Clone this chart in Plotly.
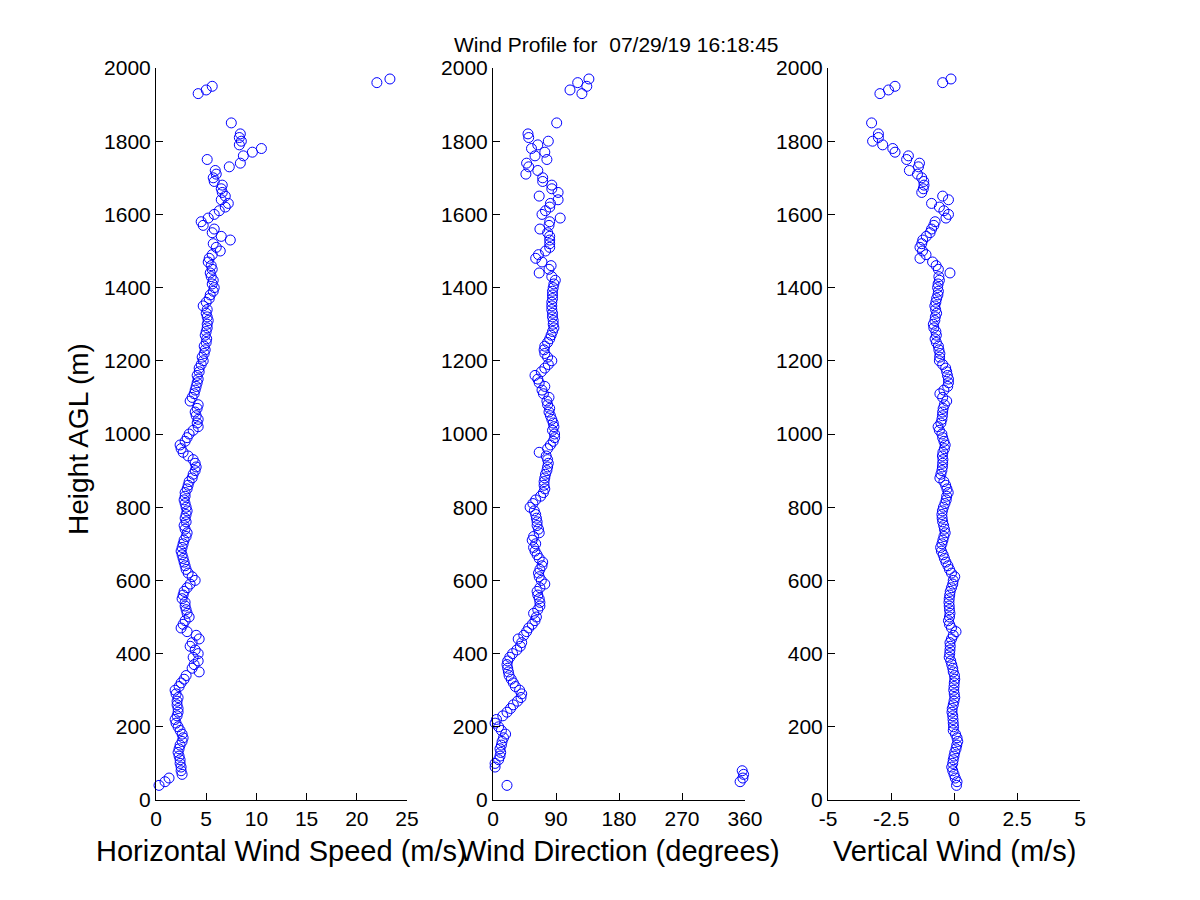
import plotly.graph_objects as go

# range gates (m AGL)
height_m = list(range(40, 1830, 10)) + [1850, 1930, 1940, 1950, 1960, 1970]

# horizontal wind speed (m/s)
speed = [
    0.3, 0.9, 1.3, 2.6, 2.5, 2.5, 2.4, 2.4, 2.3, 2.2,
    2.3, 2.4, 2.6, 2.7, 2.6, 2.4, 2.2, 2.0, 1.9, 2.1,
    2.2, 2.2, 2.1, 2.1, 2.2, 2.0, 1.9, 2.3, 2.5, 2.8,
    3.0, 4.3, 3.6, 3.8, 4.2, 3.7, 4.2, 3.9, 3.4, 3.6,
    4.3, 4.0, 3.1, 2.5, 2.7, 2.9, 3.3, 3.1, 3.0, 2.9,
    2.9, 2.6, 2.7, 2.8, 3.1, 3.4, 3.9, 3.6, 3.2, 3.0,
    2.9, 2.8, 2.7, 2.6, 2.5, 2.6, 2.7, 2.8, 3.0, 3.1,
    2.9, 2.8, 3.0, 2.9, 3.0, 3.1, 3.0, 2.9, 2.8, 2.9,
    2.9, 3.1, 3.2, 3.3, 3.6, 3.7, 3.9, 4.0, 3.9, 3.7,
    3.2, 2.7, 2.5, 2.4, 2.9, 3.1, 3.3, 3.7, 4.2, 4.1,
    4.2, 4.0, 3.9, 4.1, 4.2, 3.4, 3.6, 3.8, 3.9, 4.0,
    4.1, 4.2, 4.1, 4.3, 4.3, 4.5, 4.7, 4.6, 4.8, 4.9,
    4.8, 5.0, 5.05, 4.9, 5.0, 5.1, 5.1, 5.2, 5.1, 5.0,
    5.1, 4.7, 5.0, 5.3, 5.4, 5.7, 5.8, 5.6, 5.7, 5.5,
    5.4, 5.6, 5.5, 5.2, 5.3, 5.6, 6.4, 6.0, 5.7, 7.4,
    6.5, 5.6, 5.8, 4.7, 4.5, 5.2, 5.8, 6.3, 6.9, 7.2,
    6.5, 6.9, 6.6, 6.5, 6.6, 5.8, 5.7, 6.0, 5.9, 7.3,
    8.4, 5.1, 8.7, 9.6, 10.5, 8.3, 8.5, 8.3, 8.4, 7.5,
    4.2, 5.0, 5.6, 22.0, 23.3,
]

# wind direction (degrees)
direction = [
    20, 353, 357, 358, 356, 3, 3, 8, 10, 11,
    10, 12, 13, 15, 18, 12, 8, 3, 5, 14,
    20, 25, 29, 35, 40, 41, 38, 32, 29, 26,
    23, 22, 21, 20, 21, 24, 28, 34, 39, 41,
    36, 44, 48, 51, 56, 60, 62, 58, 64, 67,
    67, 66, 64, 63, 67, 74, 69, 66, 65, 67,
    70, 71, 66, 63, 60, 58, 61, 56, 58, 66,
    65, 63, 63, 62, 61, 59, 53, 57, 61, 68,
    72, 74, 73, 73, 74, 75, 77, 78, 79, 78,
    76, 66, 78, 82, 86, 88, 88, 85, 87, 86,
    84, 82, 80, 81, 78, 77, 80, 72, 70, 74,
    66, 64, 60, 69, 74, 79, 84, 78, 74, 73,
    74, 78, 81, 83, 85, 87, 86, 86, 85, 85,
    84, 84, 84, 85, 85, 85, 86, 87, 89, 84,
    66, 80, 83, 70, 61, 65, 75, 81, 81, 81,
    81, 78, 67, 80, 81, 96, 70, 75, 81, 82,
    93, 66, 93, 84, 84, 71, 71, 47, 64, 51,
    48, 77, 60, 74, 55, 64, 79, 51, 50, 91,
    127, 110, 134, 121, 137,
]

# vertical wind (m/s)
vertical = [
    0.10, 0.12, 0.05, 0.00, -0.05, -0.09, -0.05, -0.03, 0.00, 0.03,
    0.08, 0.11, 0.15, 0.12, 0.06, -0.03, -0.02, -0.03, -0.04, -0.05,
    -0.08, -0.07, -0.03, 0.00, 0.03, 0.01, -0.01, 0.00, 0.01, 0.03,
    0.02, -0.03, -0.05, -0.09, -0.13, -0.19, -0.17, -0.16, -0.15, -0.16,
    -0.10, -0.03, 0.08, -0.10, -0.18, -0.22, -0.18, -0.16, -0.18, -0.19,
    -0.20, -0.19, -0.17, -0.15, -0.10, -0.05, -0.03, 0.03, -0.10, -0.18,
    -0.24, -0.32, -0.38, -0.43, -0.50, -0.53, -0.48, -0.44, -0.40, -0.35,
    -0.38, -0.41, -0.45, -0.47, -0.48, -0.46, -0.42, -0.36, -0.31, -0.29,
    -0.23, -0.28, -0.33, -0.40, -0.56, -0.52, -0.48, -0.46, -0.45, -0.44,
    -0.46, -0.44, -0.38, -0.35, -0.40, -0.45, -0.48, -0.58, -0.63, -0.52,
    -0.48, -0.46, -0.45, -0.43, -0.38, -0.29, -0.45, -0.56, -0.40, -0.25,
    -0.22, -0.22, -0.26, -0.29, -0.33, -0.45, -0.58, -0.57, -0.56, -0.60,
    -0.62, -0.70, -0.75, -0.70, -0.72, -0.80, -0.82, -0.76, -0.74, -0.69,
    -0.73, -0.76, -0.72, -0.69, -0.64, -0.62, -0.65, -0.63, -0.58, -0.60,
    -0.16, -0.62, -0.71, -0.85, -1.35, -1.11, -1.25, -1.35, -1.28, -1.24,
    -1.10, -0.95, -0.89, -0.80, -0.75, -0.32, -0.22, -0.40, -0.58, -0.89,
    -0.22, -0.45, -1.28, -1.22, -1.19, -1.20, -1.28, -1.45, -1.77, -1.41,
    -1.37, -1.88, -1.81, -2.34, -2.43, -2.83, -3.23, -3.00, -3.00, -3.27,
    -2.94, -2.60, -2.34, -0.45, -0.12,
]

title_text = "Wind Profile for  07/29/19 16:18:45"
y_label = "Height AGL (m)"
x_labels = ["Horizontal Wind Speed (m/s)", "Wind Direction (degrees)", "Vertical Wind (m/s)"]

speed_ticks = [0, 5, 10, 15, 20, 25]
dir_ticks = [0, 90, 180, 270, 360]
vert_ticks = [-5, -2.5, 0, 2.5, 5]
vert_ticktext = ["-5", "-2.5", "0", "2.5", "5"]

FONT = "Liberation Sans, Arial, sans-serif"
W, H, OFF = 1200, 900, 8  # page body margin pushes the figure by 8 px


def px(x):
    return (x - OFF) / W


def py(y):
    return 1 - (y - OFF) / H


marker = dict(symbol="circle-open", size=10, color="#0000ff", line=dict(width=1, color="#0000ff"))

fig = go.Figure()
for i, xs in enumerate([speed, direction, vertical]):
    sfx = "" if i == 0 else str(i + 1)
    fig.add_trace(go.Scatter(x=xs, y=height_m, mode="markers", marker=marker,
                             xaxis="x" + sfx, yaxis="y" + sfx, cliponaxis=False,
                             showlegend=False))

doms = [[px(156), px(407)], [px(493), px(745)], [px(828), px(1080)]]
ydom = [py(800), py(68)]

ax_common = dict(showline=True, linecolor="black", linewidth=1, mirror=False,
                 ticks="inside", ticklen=7, tickcolor="black", showgrid=False,
                 zeroline=False, automargin=False,
                 tickfont=dict(family=FONT, size=21, color="black"))

x_cfg = [
    dict(range=[0, 25], tickvals=speed_ticks),
    dict(range=[0, 360], tickvals=dir_ticks),
    dict(range=[-5, 5], tickvals=vert_ticks, ticktext=vert_ticktext),
]

layout = dict(
    width=W, height=H,
    margin=dict(l=0, r=0, t=0, b=0),
    paper_bgcolor="white", plot_bgcolor="white",
    font=dict(family=FONT, color="black"),
)
for i in range(3):
    sfx = "" if i == 0 else str(i + 1)
    layout["xaxis" + sfx] = dict(domain=doms[i], anchor="y" + sfx, **x_cfg[i], **ax_common)
    layout["yaxis" + sfx] = dict(domain=ydom, anchor="x" + sfx, range=[0, 2000],
                                 dtick=200, **ax_common)
fig.update_layout(**layout)

annots = [dict(text=title_text, x=px(617), y=py(45), font=dict(size=21))]
for i, lab in enumerate(x_labels):
    annots.append(dict(text=lab, x=(doms[i][0] + doms[i][1]) / 2, y=py(851),
                       font=dict(size=29)))
annots.append(dict(text=y_label, x=px(78), y=py(439), textangle=-90,
                   font=dict(size=28)))
for a in annots:
    a.update(xref="paper", yref="paper", showarrow=False, xanchor="center", yanchor="middle")
fig.update_layout(annotations=annots)

fig.write_html("out.html")
